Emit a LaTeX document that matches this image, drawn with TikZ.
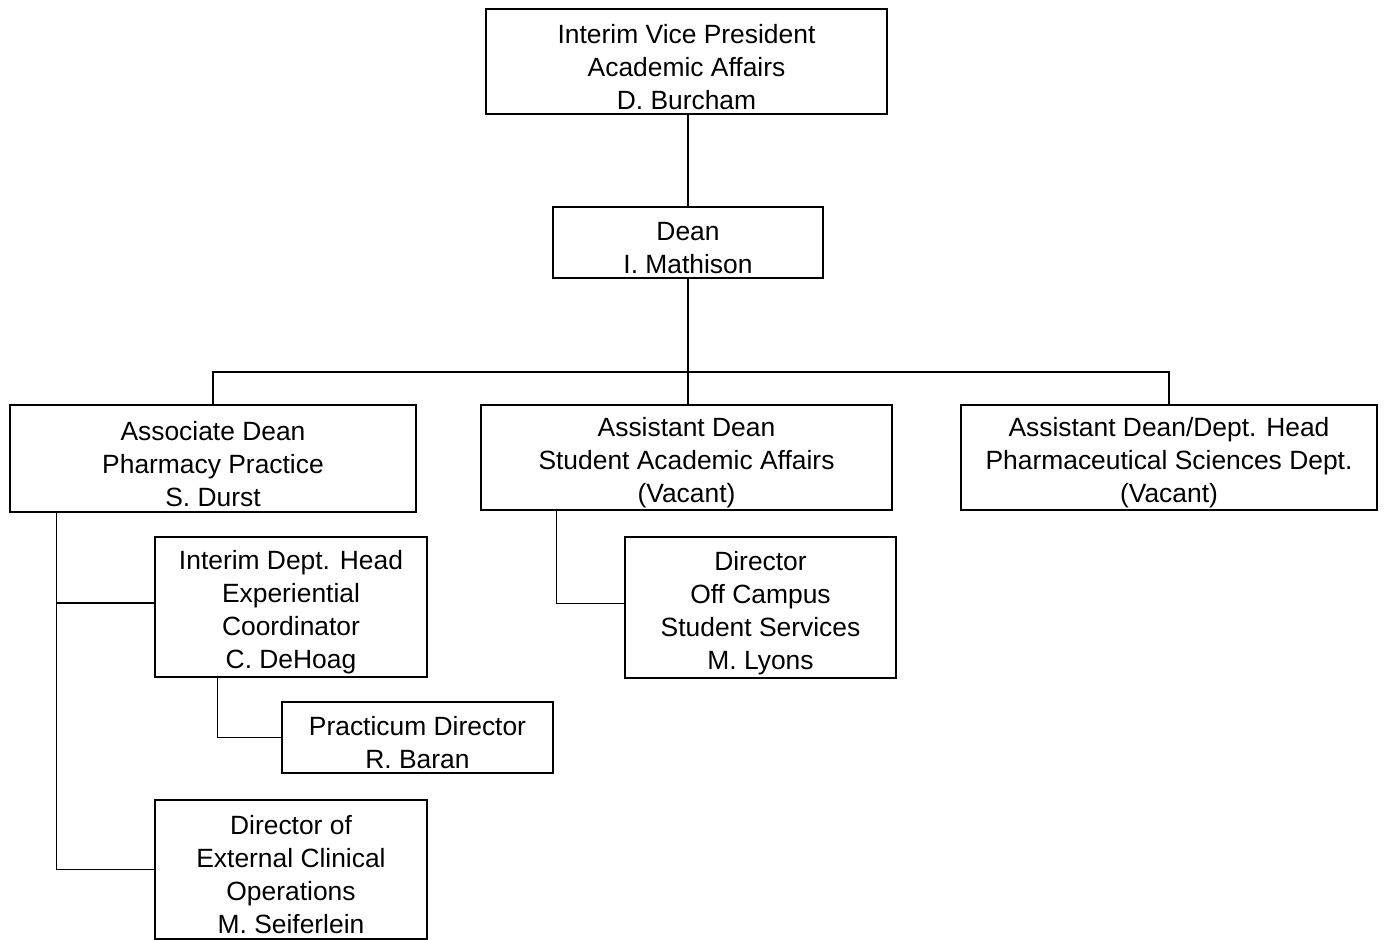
\documentclass[tikz,border=0pt]{standalone}
\usepackage{fontspec}
\setmainfont{Liberation Sans}
\newcommand{\orgbox}[5]{%
  \node[boxframe,minimum width=#3,minimum height=#4] (#1) at (#2) {};
  \node[boxtext] (#1t) at ([yshift=-2.7pt]#1.center) {#5};}
\begin{document}
\begin{tikzpicture}[x=0.5pt,y=-0.5pt,
  boxframe/.style={draw,line width=0.75pt,inner sep=0pt},
  boxtext/.style={align=center,inner sep=0pt,
    font=\fontsize{13.2pt}{16.5pt}\selectfont},
  conn/.style={line width=0.75pt}]
\useasboundingbox (0,0) rectangle (1384,940);
\orgbox{b1}{686.5,61.5}{200.5pt}{52.5pt}{Interim Vice President\\Academic Affairs\\D. Burcham}
\orgbox{b2}{688,242.5}{135pt}{35.5pt}{Dean\\I. Mathison}
\orgbox{b3}{213,458.5}{203pt}{53.5pt}{Associate Dean\\Pharmacy Practice\\S. Durst}
\orgbox{b4}{686.5,457.5}{205.5pt}{52.5pt}{Assistant Dean\\Student Academic Affairs\\(Vacant)}
\orgbox{b5}{1169,457.5}{208pt}{52.5pt}{Assistant Dean/Dept. Head\\Pharmaceutical Sciences Dept.\\(Vacant)}
\orgbox{b6}{291,607}{136pt}{70pt}{Interim Dept. Head\\Experiential\\Coordinator\\C. DeHoag}
\orgbox{b7}{760.5,607.5}{135.5pt}{70.5pt}{Director\\Off Campus\\Student Services\\M. Lyons}
\orgbox{b8}{417.5,737.5}{135.5pt}{35.5pt}{Practicum Director\\R. Baran}
\orgbox{b9}{291,869.5}{136pt}{69.5pt}{Director of\\External Clinical\\Operations\\M. Seiferlein}
\coordinate (bus) at (688,372);
\draw[conn] (b2.north |- b1.south) -- (b2.north);
\draw[conn] (b2.south) -- (bus);
\draw[conn] (b3.north) -- (b3.north |- bus) -- (b5.north |- bus) -- (b5.north);
\draw[conn] (b4.north -| bus) -- (bus);
\coordinate (s3) at ([xshift=23.5pt]b3.south west);
\draw[conn] (s3) |- (b9.west);
\draw[conn] ([yshift=2pt]b6.west) -- ([yshift=2pt]b6.west -| s3);
\draw[conn] ([xshift=38pt]b4.south west) |- ([yshift=2pt]b7.west);
\draw[conn] ([xshift=31.5pt]b6.south west) |- (b8.west);
\end{tikzpicture}
\end{document}
